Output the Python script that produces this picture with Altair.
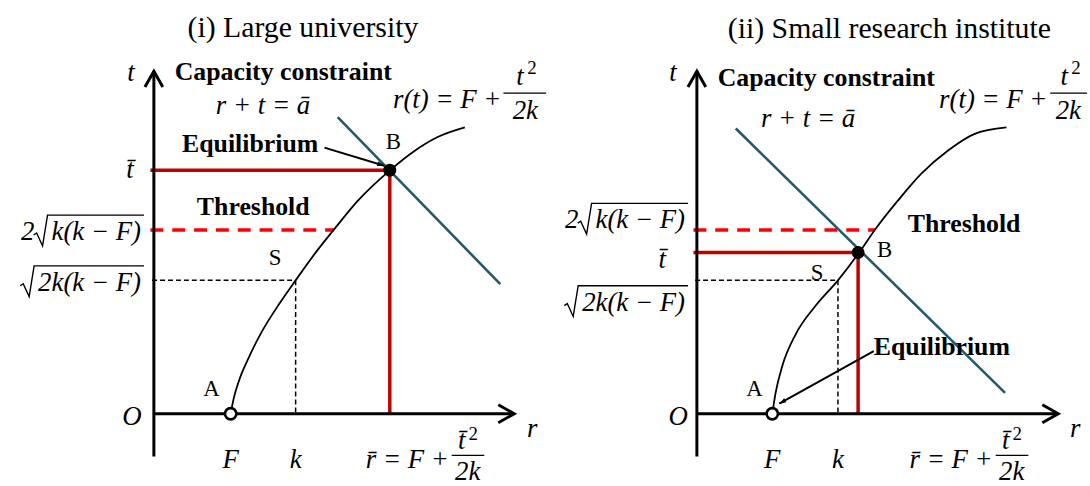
import math
import altair as alt
import pandas as pd

PX = 35.0            # pixels per diagram unit
PANEL_W, PANEL_H = 545, 486
SERIF = "Liberation Serif"
MATH_SIZE = 27

RED = "#c00000"
BRIGHT_RED = "#ff0000"
TEAL = "#24596a"

# ---------------- panel (i): large university ----------------
uni_curve_r = [2.21, 2.30, 2.45, 2.70, 3.10, 3.60, 4.08, 4.71, 5.19, 5.86, 6.81, 7.48, 8.14, 8.95]
uni_curve_t = [0.00, 0.45, 0.95, 1.55, 2.35, 3.15, 3.84, 4.71, 5.31, 6.12, 7.02, 7.55, 7.95, 8.24]
uni_F, uni_k = 2.21, 4.08
uni_t_s = 3.84          # sqrt(2k(k-F))
uni_threshold = 5.29    # 2 sqrt(k(k-F))
uni_threshold_end = 5.19
uni_r_bar, uni_t_bar = 6.79, 7.01
uni_budget_r = [5.29, 9.97]
uni_budget_t = [8.54, 3.73]
uni_arrow = [(4.91, 7.66), (6.63, 7.14)]
uni_axis_r, uni_axis_t = 10.37, 9.86

# ---------------- panel (ii): small research institute ----------------
inst_curve_r = [2.17, 2.27, 2.46, 2.84, 3.41, 4.06, 4.67, 5.12, 5.79, 6.46, 7.22, 7.98, 8.91]
inst_curve_t = [0.00, 0.62, 1.38, 2.28, 3.10, 3.84, 4.64, 5.29, 6.14, 6.91, 7.57, 8.05, 8.24]
inst_F, inst_k = 2.17, 4.06
inst_t_s = 3.84
inst_threshold = 5.29
inst_threshold_end = 5.12
inst_r_bar, inst_t_bar = 4.64, 4.64
inst_budget_r = [1.12, 8.87]
inst_budget_t = [8.21, 0.60]
inst_arrow = [(5.09, 1.80), (2.37, 0.29)]
inst_axis_r, inst_axis_t = 10.40, 9.86

TBAR = "t\u0304"
RBAR = "r\u0304"
MINUS = "\u2212"

# (text, r, t, style, align)
uni_labels = [
    ("(i) Large university", 4.29, 11.11, "title", "center"),
    ("t", -0.66, 9.80, "math", "center"),
    ("Capacity constraint", 0.60, 9.83, "bold", "left"),
    ("r + t = \u0101", 3.14, 8.86, "math", "center"),
    ("r(t) = F +", 10.00, 9.03, "math", "right"),
    ("t", 10.54, 9.69, "math", "center"),
    ("2", 10.88, 9.95, "sup", "center"),
    ("2k", 10.69, 8.71, "math", "center"),
    ("B", 6.89, 7.83, "point", "center"),
    ("Equilibrium", 2.77, 7.77, "bold", "center"),
    (TBAR, -0.69, uni_t_bar, "math", "center"),
    ("Threshold", 2.86, 5.94, "bold", "center"),
    ("S", 3.49, 4.49, "point", "center"),
    ("A", 1.66, 0.71, "point", "center"),
    ("O", -0.63, -0.09, "math", "center"),
    ("F", uni_F, -1.34, "math", "center"),
    ("k", uni_k, -1.34, "math", "center"),
    (RBAR + " = F +", 8.49, -1.34, "math", "right"),
    (TBAR, 8.86, -0.80, "math", "center"),
    ("2", 9.19, -0.57, "sup", "center"),
    ("2k", 9.03, -1.69, "math", "center"),
    ("r", 10.89, -0.43, "math", "center"),
]
uni_bars = [[(10.06, 9.23), (11.29, 9.23)], [(8.57, -1.20), (9.51, -1.20)]]
# (prefix, radicand, right edge r, centre t)
uni_roots = [("2", "k(k " + MINUS + " F)", -0.37, 5.23),
             ("", "2k(k " + MINUS + " F)", -0.37, 3.77)]

inst_labels = [
    ("(ii) Small research institute", 5.54, 11.06, "title", "center"),
    ("t", -0.69, 9.80, "math", "center"),
    ("Capacity constraint", 0.60, 9.66, "bold", "left"),
    ("r + t = \u0101", 3.20, 8.49, "math", "center"),
    ("r(t) = F +", 10.09, 9.03, "math", "right"),
    ("t", 10.57, 9.69, "math", "center"),
    ("2", 10.91, 9.95, "sup", "center"),
    ("2k", 10.69, 8.71, "math", "center"),
    ("Threshold", 7.69, 5.46, "bold", "center"),
    (TBAR, -1.00, 4.43, "math", "center"),
    ("B", 5.40, 4.71, "point", "center"),
    ("S", 3.46, 4.06, "point", "center"),
    ("Equilibrium", 5.09, 1.91, "bold", "left"),
    ("A", 1.66, 0.71, "point", "center"),
    ("O", -0.54, -0.09, "math", "center"),
    ("F", inst_F, -1.34, "math", "center"),
    ("k", inst_k, -1.34, "math", "center"),
    (RBAR + " = F +", 8.51, -1.34, "math", "right"),
    (TBAR, 8.89, -0.80, "math", "center"),
    ("2", 9.22, -0.57, "sup", "center"),
    ("2k", 9.06, -1.69, "math", "center"),
    ("r", 10.89, -0.43, "math", "center"),
]
inst_bars = [[(10.17, 9.23), (11.23, 9.23)], [(8.60, -1.20), (9.54, -1.20)]]
inst_roots = [("2", "k(k " + MINUS + " F)", -0.34, 5.57),
              ("", "2k(k " + MINUS + " F)", -0.34, 3.20)]

TEXT_STYLES = {
    "title": dict(font=SERIF, fontSize=30),
    "bold": dict(font=SERIF, fontSize=26, fontWeight="bold"),
    "point": dict(font=SERIF, fontSize=23),
    "math": dict(font=SERIF, fontSize=MATH_SIZE, fontStyle="italic"),
    "sup": dict(font=SERIF, fontSize=19),
}

# advance widths (em) of the italic serif glyphs used inside the radicals
GLYPH_EM = {"k": 0.444, "(": 0.333, ")": 0.333, " ": 0.25, MINUS: 0.675, "F": 0.611, "2": 0.5}

ARROW_HEAD = "M0,0L0.8,2.4L-0.8,2.4Z"


def text_width(s):
    return sum(GLYPH_EM[c] for c in s) * MATH_SIZE


def build_panel(origin, curve_r, curve_t, F, k, t_s, threshold, threshold_end, r_bar, t_bar,
                budget_r, budget_t, arrow, axis_r, axis_t, labels, bars, roots):
    ox, oy = origin
    xs = alt.Scale(domain=[(0 - ox) / PX, (PANEL_W - ox) / PX], nice=False, zero=False)
    ys = alt.Scale(domain=[(oy - PANEL_H) / PX, oy / PX], nice=False, zero=False)
    X = alt.X("r:Q", scale=xs, axis=None)
    Y = alt.Y("t:Q", scale=ys, axis=None)

    def segs(seg_list, color, width, dash=None, interp="linear", cap="butt"):
        rows = []
        for i, pts in enumerate(seg_list):
            for j, (r, t) in enumerate(pts):
                rows.append({"seg": i, "o": j, "r": r, "t": t})
        kw = dict(color=color, strokeWidth=width, interpolate=interp, strokeCap=cap)
        if dash:
            kw["strokeDash"] = dash
        return alt.Chart(pd.DataFrame(rows)).mark_line(**kw).encode(
            x=X, y=Y, detail="seg:N", order="o:Q")

    u = 1 / PX
    labels = list(labels)
    root_lines = []
    for prefix, radicand, r_right, t_c in roots:
        left = r_right - text_width(radicand) * u
        labels.append((radicand, left, t_c, "math", "left"))
        if prefix:
            labels.append((prefix, left - 24 * u, t_c, "math", "center"))
        top = t_c + 17 * u
        root_lines.append([(left - 18 * u, t_c - 3 * u), (left - 15 * u, t_c - 1 * u),
                           (left - 9 * u, t_c - 14 * u), (left - 4 * u, top),
                           (r_right + 3 * u, top)])

    head = 16 * u
    wing = 9 * u
    layers = [
        # guide lines to S
        segs([[(-0.05, t_s), (k, t_s)], [(k, t_s), (k, 0)]], "black", 1.5, [5, 3]),
        # threshold
        segs([[(-0.1, threshold), (threshold_end, threshold)]], BRIGHT_RED, 3.5, [13, 9]),
        # equilibrium levels
        segs([[(-0.1, t_bar), (r_bar, t_bar)], [(r_bar, t_bar), (r_bar, 0)]], RED, 3.5),
        # revenue curve
        segs([list(zip(curve_r, curve_t))], "black", 1.8, interp="monotone"),
        # capacity constraint
        segs([list(zip(budget_r, budget_t))], TEAL, 2.6),
        # axes with open arrow tips
        segs([[(0, -1.23), (0, axis_t)], [(0, 0), (axis_r, 0)]], "black", 3),
        segs([[(-wing, axis_t - head), (0, axis_t), (wing, axis_t - head)],
              [(axis_r - head, wing), (axis_r, 0), (axis_r - head, -wing)]], "black", 3),
        # fraction bars and radical signs
        segs(bars, "black", 1.3),
        segs(root_lines, "black", 1.4),
        # annotation arrow shaft
        segs([arrow], "black", 2),
    ]

    (r0, t0), (r1, t1) = arrow
    head_angle = math.degrees(math.atan2(r1 - r0, t1 - t0)) % 360
    layers.append(
        alt.Chart(pd.DataFrame({"r": [r1], "t": [t1]})).mark_point(
            shape=ARROW_HEAD, filled=True, color="black", size=34, angle=head_angle, opacity=1
        ).encode(x=X, y=Y)
    )
    # points A (open) and B (filled)
    layers.append(
        alt.Chart(pd.DataFrame({"r": [F], "t": [0.0]})).mark_point(
            shape="circle", size=130, filled=True, fill="white", stroke="black",
            strokeWidth=2.6, opacity=1
        ).encode(x=X, y=Y)
    )
    layers.append(
        alt.Chart(pd.DataFrame({"r": [r_bar], "t": [t_bar]})).mark_point(
            shape="circle", size=170, filled=True, color="black", opacity=1
        ).encode(x=X, y=Y)
    )

    df = pd.DataFrame(labels, columns=["text", "r", "t", "style", "align"])
    for (style, align), sub in df.groupby(["style", "align"]):
        layers.append(
            alt.Chart(sub).mark_text(
                align=align, baseline="middle", color="black", **TEXT_STYLES[style]
            ).encode(x=X, y=Y, text="text:N")
        )

    return alt.layer(*layers).properties(width=PANEL_W, height=PANEL_H)


left = build_panel((155, 415), uni_curve_r, uni_curve_t, uni_F, uni_k, uni_t_s,
                   uni_threshold, uni_threshold_end, uni_r_bar, uni_t_bar,
                   uni_budget_r, uni_budget_t, uni_arrow, uni_axis_r, uni_axis_t,
                   uni_labels, uni_bars, uni_roots)
right = build_panel((149, 415), inst_curve_r, inst_curve_t, inst_F, inst_k, inst_t_s,
                    inst_threshold, inst_threshold_end, inst_r_bar, inst_t_bar,
                    inst_budget_r, inst_budget_t, inst_arrow, inst_axis_r, inst_axis_t,
                    inst_labels, inst_bars, inst_roots)

chart = alt.hconcat(left, right, spacing=0).properties(
    padding=0, background="white"
).configure_view(stroke=None)

chart.save("out.html", embed_options={"renderer": "svg", "actions": False})
